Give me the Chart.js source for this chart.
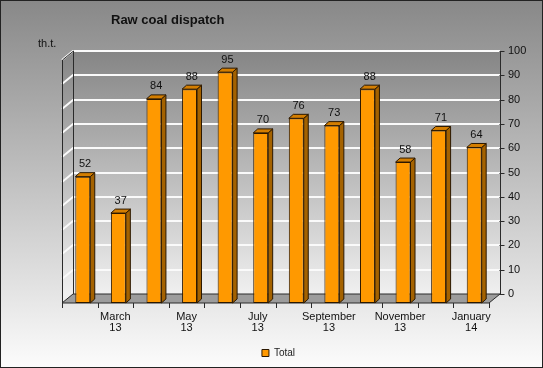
<!DOCTYPE html>
<html lang="en">
<head>
<meta charset="utf-8"/>
<title>Raw coal dispatch</title>
<script src="https://cdn.jsdelivr.net/npm/chart.js"></script>
<style>
  html, body { margin: 0; padding: 0; background: #fff; }
  #wrap { width: 543px; height: 368px; position: relative; }
</style>
</head>
<body>
<div id="wrap"><canvas id="coalChart"></canvas></div>
<script>
  // data (thousand tonnes)
  const months = ['February 13', 'March 13', 'April 13', 'May 13', 'June 13', 'July 13',
                  'August 13', 'September 13', 'October 13', 'November 13', 'December 13', 'January 14'];
  const total = [52, 37, 84, 88, 95, 70, 76, 73, 88, 58, 71, 64];
  const yTicks = [0, 10, 20, 30, 40, 50, 60, 70, 80, 90, 100];

  // fake 3d look
  const DX = 11, DY = -9;      // back wall offset from the front plane
  const BX = 3;                // bars stand a bit behind the front plane
  const BDX = 4.5, BDY = -4;   // bar depth

  Chart.defaults.font.family = "'Liberation Sans', Arial, sans-serif";

  const backdrop = {
    id: 'backdrop',
    beforeDraw(chart) {
      const { ctx, chartArea: a, scales } = chart;
      const y = scales.y;
      const W = chart.width, H = chart.height;
      ctx.save();

      let g = ctx.createLinearGradient(0, 0, 0, H);
      g.addColorStop(0, '#888888');
      g.addColorStop(1, '#fcfcfc');
      ctx.fillStyle = g;
      ctx.fillRect(0, 0, W, H);

      // back + left wall
      g = ctx.createLinearGradient(0, a.top + DY, 0, a.bottom + DY);
      g.addColorStop(0, '#858585');
      g.addColorStop(1, '#f0f0f0');
      ctx.fillStyle = g;
      ctx.fillRect(a.left + DX, a.top + DY, a.right - a.left, a.bottom - a.top);
      ctx.beginPath();
      ctx.moveTo(a.left, a.top);
      ctx.lineTo(a.left + DX, a.top + DY);
      ctx.lineTo(a.left + DX, a.bottom + DY);
      ctx.lineTo(a.left, a.bottom);
      ctx.closePath();
      ctx.fill();

      // grid lines on the walls
      ctx.strokeStyle = '#fafafa';
      ctx.lineWidth = 2;
      yTicks.forEach(v => {
        if (v === 0) return;
        const py = Math.round(y.getPixelForValue(v));
        ctx.beginPath();
        ctx.moveTo(a.left, py);
        ctx.lineTo(a.left + DX, py + DY);
        ctx.lineTo(a.right + DX, py + DY);
        ctx.stroke();
      });

      // floor
      ctx.beginPath();
      ctx.moveTo(a.left, a.bottom);
      ctx.lineTo(a.right, a.bottom);
      ctx.lineTo(a.right + DX, a.bottom + DY);
      ctx.lineTo(a.left + DX, a.bottom + DY);
      ctx.closePath();
      ctx.fillStyle = '#9c9c9c';
      ctx.fill();
      ctx.lineWidth = 1;
      ctx.strokeStyle = '#2a2a2a';
      ctx.stroke();

      // left wall edges
      const lx = Math.round(a.left) + 0.5, bx = Math.round(a.left + DX) + 0.5;
      ctx.beginPath();
      ctx.moveTo(bx, a.bottom + DY);
      ctx.lineTo(bx, a.top + DY);
      ctx.lineTo(lx, a.top);
      ctx.lineTo(lx, a.bottom);
      ctx.stroke();

      // right value axis on the back wall
      const ax = Math.round(a.right + DX) + 0.5;
      ctx.beginPath();
      ctx.moveTo(ax, a.top + DY);
      ctx.lineTo(ax, a.bottom + DY);
      yTicks.forEach(v => {
        const py = Math.round(y.getPixelForValue(v) + DY) + 0.5;
        ctx.moveTo(ax - 1, py);
        ctx.lineTo(ax + 4, py);
      });
      ctx.stroke();

      // category tick marks
      const step = (a.right - a.left) / months.length;
      ctx.beginPath();
      for (let k = 0; k <= months.length; k++) {
        const px = Math.round(a.left + k * step) + 0.5;
        ctx.moveTo(px, a.bottom);
        ctx.lineTo(px, a.bottom + 5);
      }
      ctx.stroke();

      // title and unit
      ctx.fillStyle = '#111';
      ctx.textBaseline = 'alphabetic';
      ctx.font = "bold 13px 'Liberation Sans', Arial, sans-serif";
      ctx.fillText('Raw coal dispatch', 111, 24);
      ctx.font = "11px 'Liberation Sans', Arial, sans-serif";
      ctx.fillText('th.t.', 38, 47);
      ctx.restore();
    },
    afterDraw(chart) {
      const ctx = chart.ctx;
      ctx.save();
      ctx.strokeStyle = '#222';
      ctx.lineWidth = 1;
      ctx.strokeRect(0.5, 0.5, chart.width - 1, chart.height - 1);
      ctx.restore();
    }
  };

  const bars3d = {
    id: 'bars3d',
    beforeDatasetsDraw(chart) {
      chart.ctx.save();
      chart.ctx.translate(BX, 0);
    },
    afterDatasetsDraw(chart) {
      const ctx = chart.ctx;
      ctx.lineWidth = 1;
      ctx.strokeStyle = '#2b1800';
      chart.getDatasetMeta(0).data.forEach((bar, i) => {
        const l = bar.x - bar.width / 2, r = bar.x + bar.width / 2;
        const t = bar.y, b = bar.base;
        // side
        ctx.beginPath();
        ctx.moveTo(r, t);
        ctx.lineTo(r + BDX, t + BDY);
        ctx.lineTo(r + BDX, b + BDY);
        ctx.lineTo(r, b);
        ctx.closePath();
        ctx.fillStyle = '#a46200';
        ctx.fill();
        ctx.stroke();
        // top
        ctx.beginPath();
        ctx.moveTo(l, t);
        ctx.lineTo(l + BDX, t + BDY);
        ctx.lineTo(r + BDX, t + BDY);
        ctx.lineTo(r, t);
        ctx.closePath();
        ctx.fillStyle = '#d47e00';
        ctx.fill();
        ctx.stroke();
        // value
        ctx.fillStyle = '#111';
        ctx.font = "11px 'Liberation Sans', Arial, sans-serif";
        ctx.textAlign = 'center';
        ctx.textBaseline = 'bottom';
        ctx.fillText(String(total[i]), bar.x + BDX / 2, t + BDY - 3);
      });
      ctx.restore();
    }
  };

  new Chart(document.getElementById('coalChart'), {
    type: 'bar',
    data: {
      labels: months,
      datasets: [{
        label: 'Total',
        data: total,
        backgroundColor: '#ff9900',
        borderColor: '#2b1800',
        borderWidth: 1,
        borderSkipped: false,
        categoryPercentage: 1,
        barPercentage: 0.42
      }]
    },
    options: {
      responsive: true,
      maintainAspectRatio: false,
      animation: false,
      layout: { padding: { left: 14, right: 0, top: 60, bottom: 0 } },
      plugins: {
        title: { display: false },
        tooltip: { enabled: false },
        legend: {
          position: 'bottom',
          labels: {
            boxWidth: 7,
            boxHeight: 7,
            padding: 6,
            color: '#222',
            font: { size: 10 }
          }
        }
      },
      scales: {
        x: {
          grid: { display: false, drawTicks: false },
          border: { display: false },
          afterFit: s => { s.height = 39; },
          ticks: {
            autoSkip: false,
            maxRotation: 0,
            padding: 8,
            color: '#111',
            font: { size: 11, lineHeight: 1.05 },
            callback: (v, i) => i % 2 === 1 ? months[i].split(' ') : ''
          }
        },
        yL: {
          position: 'left',
          grid: { display: false, drawTicks: false },
          border: { display: false },
          ticks: { display: false },
          afterFit: s => { s.width = 48; }
        },
        y: {
          position: 'right',
          min: 0,
          max: 100,
          grid: { display: false, drawTicks: false },
          border: { display: false },
          afterFit: s => { s.width = 54; },
          afterBuildTicks: s => { s.ticks = yTicks.map(v => ({ value: v })); },
          ticks: {
            padding: 19,
            labelOffset: DY,
            color: '#111',
            font: { size: 11 }
          }
        }
      }
    },
    plugins: [backdrop, bars3d]
  });
</script>
</body>
</html>
